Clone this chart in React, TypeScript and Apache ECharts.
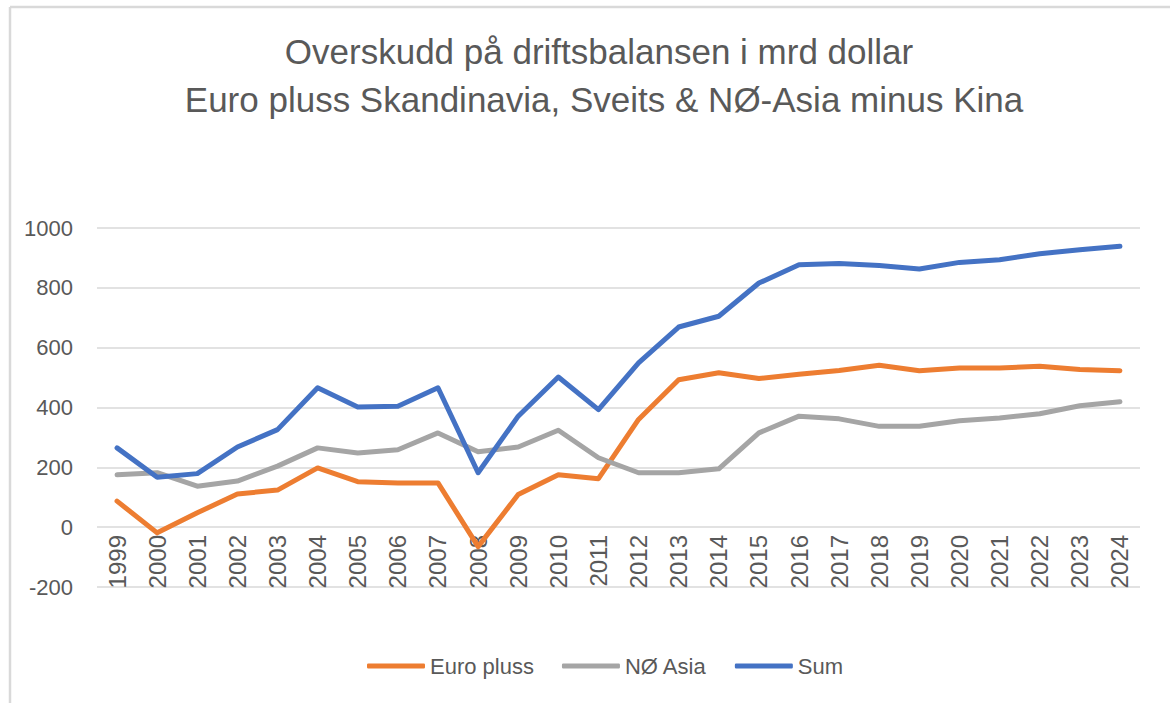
import React, { useEffect, useRef } from "react";
import * as echarts from "echarts";

const years = ["1999","2000","2001","2002","2003","2004","2005","2006","2007","2008","2009","2010","2011","2012","2013","2014","2015","2016","2017","2018","2019","2020","2021","2022","2023","2024"];
const euroPluss = [87, -19, 48, 111, 124, 198, 152, 148, 148, -65, 109, 175, 162, 360, 493, 516, 497, 511, 524, 541, 523, 532, 532, 538, 527, 523];
const noAsia = [175, 182, 137, 154, 204, 265, 248, 259, 315, 252, 268, 324, 232, 182, 182, 195, 315, 371, 362, 337, 337, 356, 365, 379, 406, 419];
const sum = [265, 167, 179, 268, 326, 466, 402, 404, 466, 182, 371, 502, 393, 549, 669, 705, 816, 877, 881, 875, 863, 885, 894, 914, 927, 939];

const titleLine1 = "Overskudd på driftsbalansen i mrd dollar";
const titleLine2 = "Euro pluss Skandinavia, Sveits & NØ-Asia minus Kina";
const FONT = "'Liberation Sans', Arial, sans-serif";
const TXT = "#595959";

export default function App() {
  const ref = useRef<HTMLDivElement>(null);
  useEffect(() => {
    if (!ref.current) return;
    const chart = echarts.init(ref.current, undefined, { renderer: "svg" });
    const titleStyle = { fontFamily: FONT, fontSize: 35, fontWeight: "normal", color: TXT, lineHeight: 48 };
    chart.setOption({
      animation: false,
      backgroundColor: "#ffffff",
      textStyle: { fontFamily: FONT },
      title: [
        { text: titleLine1, left: 594, top: 22, textAlign: "center", textStyle: titleStyle },
        { text: titleLine2, left: 599, top: 70, textAlign: "center", textStyle: titleStyle },
      ],
      legend: {
        top: 650,
        left: 362,
        icon: "roundRect",
        itemWidth: 58,
        itemHeight: 5,
        itemGap: 28,
        textStyle: { fontFamily: FONT, fontSize: 22, color: TXT },
        data: ["Euro pluss", "NØ Asia", "Sum"],
      },
      grid: { left: 97, right: 30, top: 228, bottom: 116, containLabel: false },
      xAxis: {
        type: "category",
        data: years,
        boundaryGap: true,
        offset: -60,
        axisLine: { show: false, onZero: false },
        axisTick: { show: false },
        axisLabel: { rotate: 90, margin: 8, color: TXT, fontSize: 24, fontFamily: FONT },
      },
      yAxis: {
        type: "value",
        min: -200,
        max: 1000,
        interval: 200,
        axisLine: { show: false },
        axisTick: { show: false },
        axisLabel: { color: TXT, fontSize: 22, fontFamily: FONT, margin: 24, formatter: (v: number) => String(v) },
        splitLine: { lineStyle: { color: "#D9D9D9", width: 1.5 } },
      },
      graphic: [
        { type: "line", shape: { x1: 10, y1: 7, x2: 10, y2: 703 }, style: { stroke: "#D9D9D9", lineWidth: 2.5 } },
        { type: "line", shape: { x1: 10, y1: 7, x2: 1170, y2: 7 }, style: { stroke: "#D9D9D9", lineWidth: 2.5 } },
      ],
      series: [
        { name: "Euro pluss", type: "line", data: euroPluss, symbol: "none", color: "#ED7D31", lineStyle: { width: 5, color: "#ED7D31", join: "round", cap: "round" } },
        { name: "NØ Asia", type: "line", data: noAsia, symbol: "none", color: "#A5A5A5", lineStyle: { width: 5, color: "#A5A5A5", join: "round", cap: "round" } },
        { name: "Sum", type: "line", data: sum, symbol: "none", color: "#4472C4", lineStyle: { width: 5, color: "#4472C4", join: "round", cap: "round" } },
      ],
    });
    return () => chart.dispose();
  }, []);
  return <div ref={ref} style={{ position: "fixed", left: 0, top: 0, width: 1170, height: 703 }} />;
}
